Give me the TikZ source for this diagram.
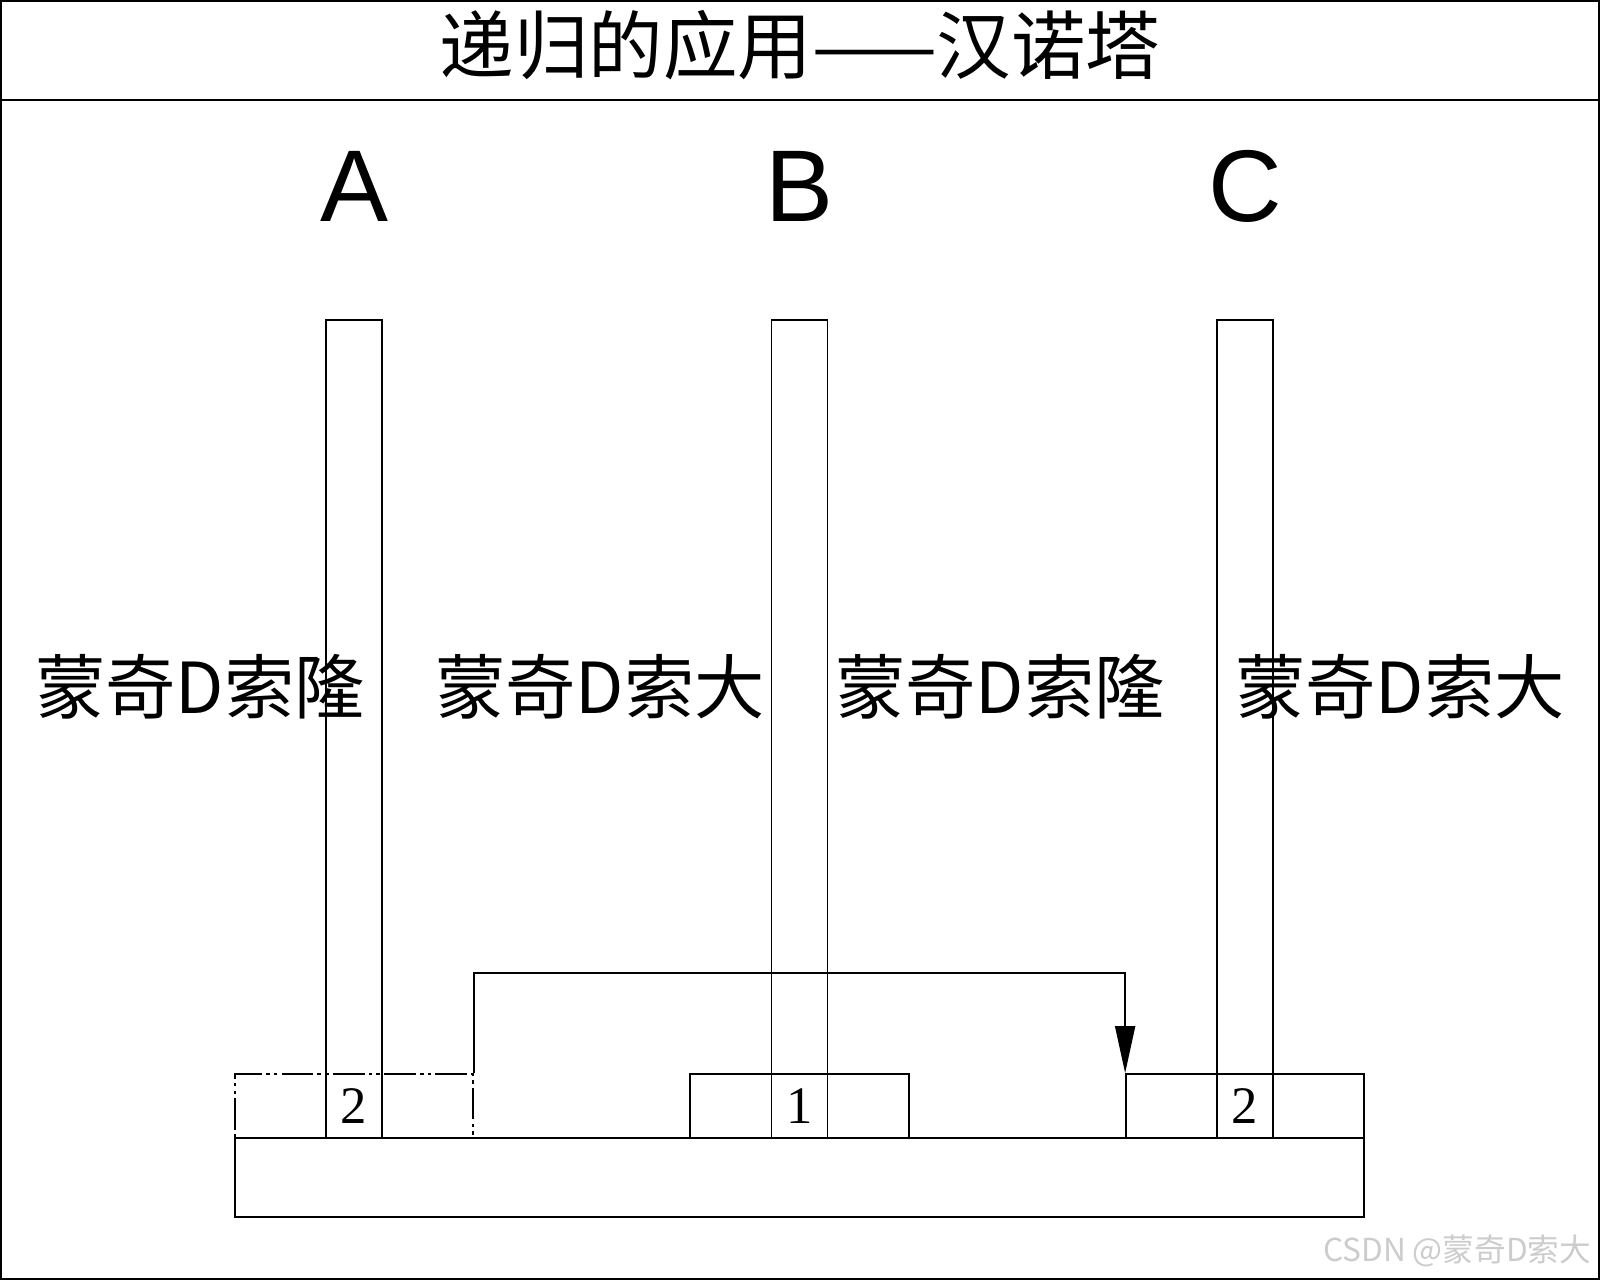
\documentclass[tikz,border=0pt]{standalone}
\usepackage{fontspec}
\setmainfont{Liberation Serif}
\newfontfamily\cjkfont{Noto Sans CJK SC}
\newfontfamily\letterfont{Liberation Sans}
\usetikzlibrary{arrows.meta}

\begin{document}
\begin{tikzpicture}[line width=0.5pt,
  peg/.style={draw, minimum width=0.56cm, minimum height=8.18cm, inner sep=0pt},
  disk/.style={draw, minimum height=0.64cm, inner sep=0pt, font=\fontsize{15}{15}\selectfont},
  pegname/.style={anchor=base, inner sep=0pt, font=\letterfont\fontsize{29}{29}\selectfont},
  tag/.style={anchor=base, inner sep=0pt, font=\cjkfont\fontsize{20}{20}\selectfont},
  move/.style={-{Triangle[length=4.7mm, width=2mm]}}]
\useasboundingbox (0,0) rectangle (16,12.8);
\draw (0.01,0.01) rectangle (15.99,12.79);
\draw (0,11.8) -- (16,11.8);
\node[anchor=base, inner sep=0pt, font=\cjkfont\fontsize{21.2}{21.2}\selectfont] (title) at (8,12.06) {递归的应用——汉诺塔};

\node[draw, minimum width=11.29cm, minimum height=0.79cm, inner sep=0pt] (base) at (7.995,1.025) {};

\node[disk, minimum width=2.38cm, dash pattern=on 9pt off 1.2pt on 1pt off 1.2pt on 1pt off 1.2pt] (diskA) at (3.54,1.74) {2};
\node[disk, minimum width=2.19cm] (diskB) at (7.995,1.74) {1};
\node[disk, minimum width=2.38cm] (diskC) at (12.45,1.74) {2};

\node[peg] (pegA) at (3.54,5.51) {};
\node[peg] (pegB) at (7.995,5.51) {};
\node[peg] (pegC) at (12.45,5.51) {};

\node[pegname] (nameA) at (3.54,10.58) {A};
\node[pegname] (nameB) at (7.995,10.58) {B};
\node[pegname] (nameC) at (12.45,10.58) {C};

\node[tag] (tag1) at (2,5.66) {蒙奇D索隆};
\node[tag] (tag2) at (6,5.66) {蒙奇D索大};
\node[tag] (tag3) at (10,5.66) {蒙奇D索隆};
\node[tag] (tag4) at (14,5.66) {蒙奇D索大};

\draw[move] (diskA.north east) -- ++(0,1) -| (diskC.north west);

\node[anchor=base east, inner sep=0pt, text=gray!40, font=\cjkfont\fontsize{9}{9}\selectfont] (mark) at (15.92,0.18) {CSDN @蒙奇D索大};
\end{tikzpicture}
\end{document}
